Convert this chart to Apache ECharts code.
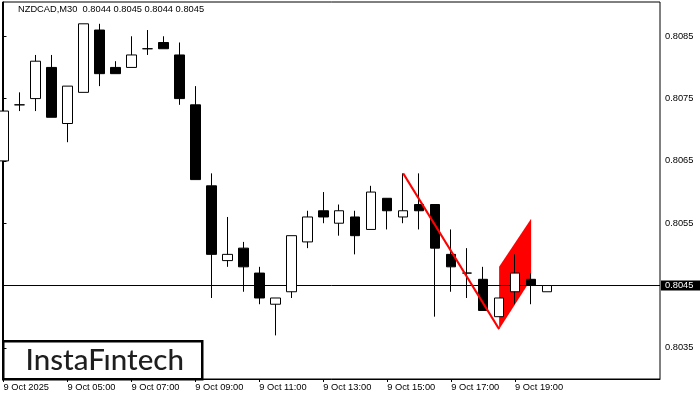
<!DOCTYPE html>
<html><head><meta charset="utf-8">
<script src="https://cdn.jsdelivr.net/npm/echarts@6/dist/echarts.min.js"></script>
<style>html,body{margin:0;padding:0;background:#fff}#c{width:700px;height:400px}</style>
</head><body><div id="c"></div>
<script>
// 30-minute bars, 9 Oct 2025 03:00 .. 20:00
const times = ['03:00','03:30','04:00','04:30','05:00','05:30','06:00','06:30','07:00','07:30',
  '08:00','08:30','09:00','09:30','10:00','10:30','11:00','11:30','12:00','12:30',
  '13:00','13:30','14:00','14:30','15:00','15:30','16:00','16:30','17:00','17:30',
  '18:00','18:30','19:00','19:30','20:00'];
const openV  = [0.8065,0.8074,0.8075,0.8080,0.8071,0.8076,0.8086,0.8080,0.8080,0.8083,
  0.8084,0.8082,0.8074,0.8061,0.8049,0.8051,0.8047,0.8042,0.8044,0.8052,
  0.8057,0.8055,0.8056,0.8054,0.8059,0.8056,0.8058,0.8058,0.8050,0.8047,
  0.8046,0.8040,0.8044,0.8046,0.8044];
const closeV = [0.8073,0.8074,0.8081,0.8072,0.8077,0.8087,0.8079,0.8079,0.8082,0.8083,
  0.8083,0.8075,0.8062,0.8050,0.8050,0.8048,0.8043,0.8043,0.8053,0.8056,
  0.8056,0.8057,0.8053,0.8060,0.8057,0.8057,0.8057,0.8051,0.8048,0.8047,
  0.8041,0.8043,0.8047,0.8045,0.8045];
const lowV   = [0.8065,0.8073,0.8073,0.8072,0.8068,0.8076,0.8077,0.8079,0.8080,0.8082,
  0.8083,0.8074,0.8062,0.8043,0.8048,0.8044,0.8042,0.8037,0.8043,0.8051,
  0.8055,0.8053,0.8050,0.8054,0.8054,0.8055,0.8054,0.8040,0.8044,0.8043,
  0.8041,0.8040,0.8042,0.8042,0.8044];
const highV  = [0.8073,0.8076,0.8082,0.8082,0.8077,0.8087,0.8087,0.8081,0.8085,0.8086,
  0.8085,0.8084,0.8077,0.8063,0.8056,0.8052,0.8048,0.8043,0.8053,0.8057,
  0.8060,0.8058,0.8057,0.8061,0.8059,0.8063,0.8063,0.8058,0.8054,0.8051,
  0.8048,0.8043,0.8050,0.8047,0.8045];
// x-axis tick labels (bar index -> text)
const tickIdx = [0,4,8,12,16,20,24,28,32];
const tickLabels = ['9 Oct 2025','9 Oct 05:00','9 Oct 07:00','9 Oct 09:00','9 Oct 11:00',
  '9 Oct 13:00','9 Oct 15:00','9 Oct 17:00','9 Oct 19:00'];
// y-axis tick values
const priceTicks = [0.8035,0.8045,0.8055,0.8065,0.8075,0.8085];
// pattern: flagpole line and flag polygon (bar index, price)
const poleX = [25,31];
const poleY = [0.8063,0.8038];
const flagX = [31,31,33,33];
const flagY = [0.8038,0.8048,0.80557,0.8046];
const symbolTitle = 'NZDCAD,M30  0.8044 0.8045 0.8044 0.8045';
const lastPrice = 0.8045;

const FONT = 'Liberation Sans';
const X_MIN = -0.0625, X_MAX = 41.0625;
const candleData = times.map((t,i)=>[i, openV[i], closeV[i], lowV[i], highV[i]]);

const chart = echarts.init(document.getElementById('c'), null, {renderer:'canvas'});
chart.setOption({
  animation:false,
  backgroundColor:'#fff',
  grid:{left:2.5, top:2, right:40, bottom:21, show:true, borderColor:'#000', borderWidth:1, backgroundColor:'#fff'},
  xAxis:{
    type:'value', min:X_MIN, max:X_MAX,
    axisLine:{show:true, lineStyle:{color:'#000', width:1}},
    splitLine:{show:false},
    axisTick:{show:true, length:3, customValues:tickIdx, lineStyle:{color:'#000'}},
    axisLabel:{show:true, customValues:tickIdx, align:'left', margin:4, color:'#000',
      fontFamily:FONT, fontSize:9.3,
      formatter:v=>{const k=tickIdx.indexOf(Math.round(v)); return k>=0?tickLabels[k]:'';}}
  },
  yAxis:{
    type:'value', position:'right', min:0.80300, max:0.80905, scale:true,
    axisLine:{show:true, lineStyle:{color:'#000'}},
    splitLine:{show:false},
    axisTick:{show:true, length:3, customValues:priceTicks, lineStyle:{color:'#000'}},
    axisLabel:{show:true, customValues:priceTicks.filter(v=>Math.abs(v-lastPrice)>1e-6), margin:5, color:'#000',
      fontFamily:FONT, fontSize:9.3, formatter:v=>v.toFixed(4)}
  },
  series:[
    {
      type:'custom', z:1, silent:true,
      data:[0],
      renderItem:(params, api)=>{
        const pts = flagX.map((x,i)=>api.coord([x, flagY[i]]));
        return {type:'polygon', shape:{points:pts}, style:{fill:'#ff0000', stroke:null}};
      }
    },
    {
      type:'line', z:1.5, symbol:'none', silent:true, clip:false,
      data:[[X_MIN,lastPrice],[X_MAX,lastPrice]],
      lineStyle:{color:'#000', width:1},
      endLabel:{show:true, distance:1, formatter:()=>lastPrice.toFixed(4),
        color:'#fff', backgroundColor:'#000', fontFamily:FONT, fontSize:9.3, padding:[1,9,0,4]}
    },
    {
      type:'candlestick', z:2, barWidth:10,
      data:candleData,
      encode:{x:0, y:[1,2,3,4]},
      itemStyle:{color:'#fff', color0:'#000', borderColor:'#000', borderColor0:'#000', borderColorDoji:'#000', borderWidth:1}
    },
    {
      type:'line', z:3, symbol:'none', silent:true,
      data:poleX.map((x,i)=>[x, poleY[i]]),
      lineStyle:{color:'#ff0000', width:2}
    }
  ],
  graphic:[
    {type:'text', left:18, top:5, z:100,
      style:{text:symbolTitle, fill:'#000', font:'9.3px "'+FONT+'"'}},
    {type:'group', left:2, top:340, z:100, children:[
      {type:'rect', shape:{x:0, y:0, width:199, height:38}, style:{fill:'#fff', stroke:'#000', lineWidth:2.5}},
      {type:'text', x:101.5, y:19.5, style:{text:'InstaFıntech', fill:'#1e1e1e', font:'500 29.5px Lato', textAlign:'center', textVerticalAlign:'middle'}}
    ]}
  ]
});
</script></body></html>
